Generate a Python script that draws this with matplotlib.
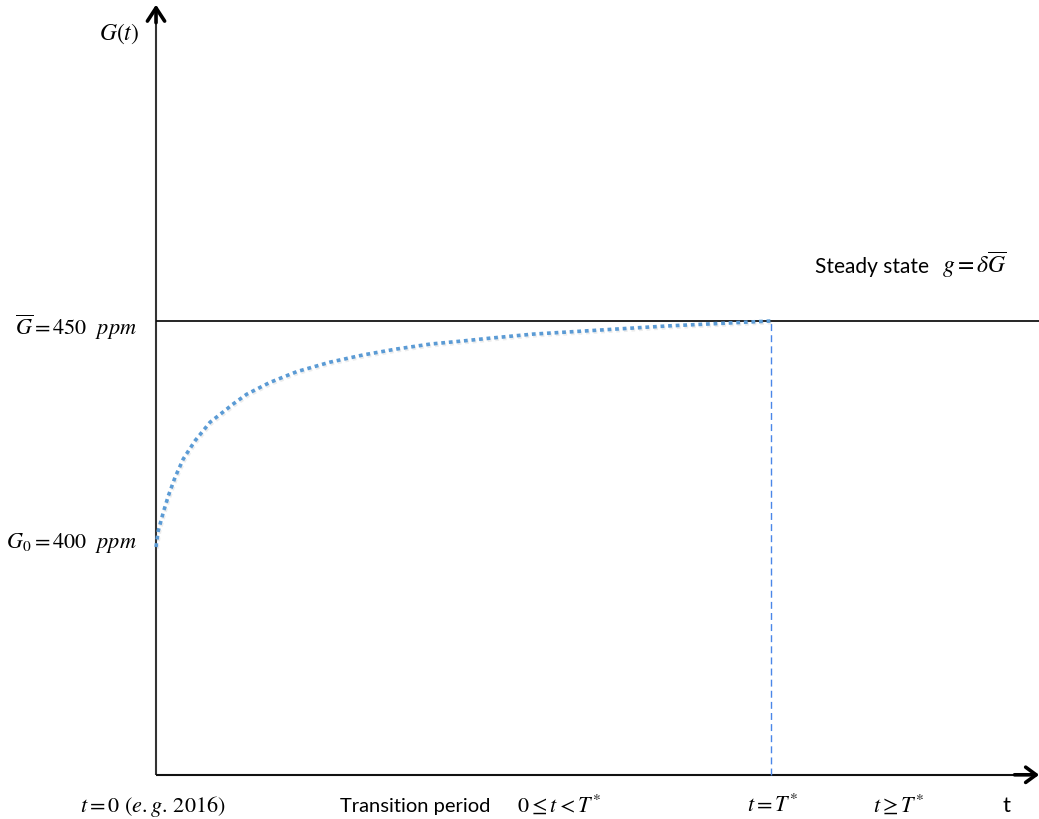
import matplotlib
matplotlib.use("Agg")
import matplotlib.pyplot as plt
import matplotlib.patheffects as pe

plt.rcParams['mathtext.fontset'] = 'stix'

# ---- data ----
t_curve = [0, 0.37, 1.19, 2.0, 3.09, 4.44, 6.34, 8.78, 11.5, 12.3, 14.75, 18.5,
           22.9, 28.3, 33.7, 39.1, 44.6, 50.0, 54.3, 61.3, 72.2, 83.1, 93.8, 100]
G_curve = [400, 403.6, 407.7, 411.3, 415.4, 419.5, 423.5, 427.6, 430.5, 431.4,
           433.8, 436.4, 438.8, 440.9, 442.5, 443.8, 444.9, 445.6, 446.2, 447.1,
           448.0, 448.9, 449.6, 450]
G0 = 400
G_bar = 450
T_star = 100
t_end = 143.6
G_axis_bottom = 349.6
G_axis_top = 520.0

y_label = r'$G(t)$'
G_bar_label = r'$\overline{G} = 450\ \ ppm$'
G0_label = r'$G_0 = 400\ \ ppm$'
steady_text = 'Steady state'
steady_math = r'$g = \delta\overline{G}$'
bottom_labels = [r'$t = 0\ (e.g.\,2016)$', r'$0 \leq t < T^{*}$',
                 r'$t = T^{*}$', r'$t \geq T^{*}$']
transition_text = 'Transition period'
t_label = 't'

# ---- figure ----
fig = plt.figure(figsize=(10.39, 8.20), dpi=100)
ax = fig.add_axes([0, 0, 1, 1])
ax.set_xlim(-25.37, 143.58)
ax.set_ylim(339.82, 521.24)
ax.axis('off')

# axes with arrows
ax.plot([0, 0], [G_axis_bottom, G_axis_top - 1.0], color='#333333', lw=1.5, solid_capstyle='butt')
ax.plot([0, t_end - 0.8], [G_axis_bottom, G_axis_bottom], color='#111111', lw=1.5, solid_capstyle='butt')
ax.annotate('', xy=(0, G_axis_top), xytext=(0, G_axis_top - 4),
            arrowprops=dict(arrowstyle='->,head_length=0.95,head_width=0.62',
                            lw=2.6, color='black', shrinkA=0, shrinkB=0))
ax.annotate('', xy=(t_end, G_axis_bottom), xytext=(t_end - 4, G_axis_bottom),
            arrowprops=dict(arrowstyle='->,head_length=0.75,head_width=0.55',
                            lw=2.6, color='black', shrinkA=0, shrinkB=0))

# steady state line
ax.plot([0.2, 143.58], [G_bar, G_bar], color='black', lw=1.2)

# vertical dashed line at T*
ax.plot([T_star, T_star], [G_axis_bottom, G_bar], color='#4a86e8', lw=1.0,
        dashes=(5, 3))

# curve
ax.plot(t_curve, G_curve, color='#5b9bd5', lw=2.6, linestyle=(0, (1.05, 1.05)),
        solid_capstyle='butt',
        path_effects=[pe.SimpleLineShadow(offset=(0.8, -1.2), alpha=0.15, shadow_color='gray'),
                      pe.Normal()])

# labels
ax.text(-6.0, 512.4, y_label, fontsize=17, ha='center', va='baseline')
ax.text(-3.1, 447.1, G_bar_label, fontsize=16, ha='right', va='baseline')
ax.text(-3.1, 400.0, G0_label, fontsize=16, ha='right', va='baseline')
ax.text(107.2, 460.8, steady_text, fontsize=15, ha='left', va='baseline', family='Lato')
ax.text(127.8, 460.8, steady_math, fontsize=17, ha='left', va='baseline')

yb = 341.6
ax.text(-12.4, yb, bottom_labels[0], fontsize=16, ha='left', va='baseline')
ax.text(29.9, yb, transition_text, fontsize=14.5, ha='left', va='baseline', family='Lato')
ax.text(58.7, yb, bottom_labels[1], fontsize=16, ha='left', va='baseline')
ax.text(96.1, yb, bottom_labels[2], fontsize=16, ha='left', va='baseline')
ax.text(116.6, yb, bottom_labels[3], fontsize=16, ha='left', va='baseline')
ax.text(137.7, yb, t_label, fontsize=16, ha='left', va='baseline', family='Lato')

fig.savefig('out.png', dpi=100)
